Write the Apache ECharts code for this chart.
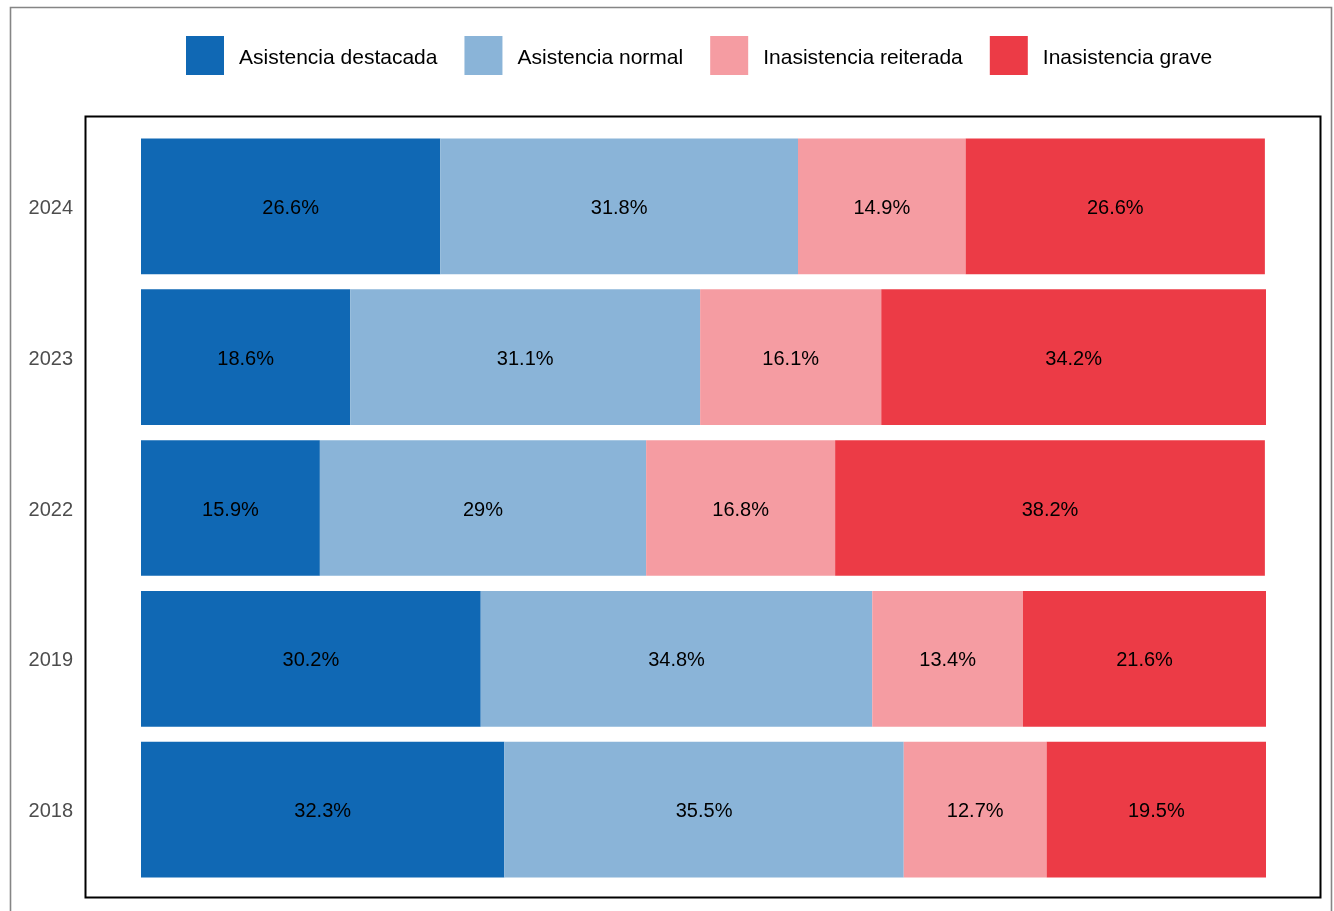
<!DOCTYPE html>
<html>
<head>
<meta charset="utf-8">
<script src="https://cdn.jsdelivr.net/npm/echarts@6/dist/echarts.min.js"></script>
<style>html,body{margin:0;padding:0;background:#fff;}#c{width:1334px;height:911px;}</style>
</head>
<body>
<div id="c"></div>
<script>
const years = ['2018', '2019', '2022', '2023', '2024'];
const seriesNames = ['Asistencia destacada', 'Asistencia normal', 'Inasistencia reiterada', 'Inasistencia grave'];
const destacada = [32.3, 30.2, 15.9, 18.6, 26.6];
const normal = [35.5, 34.8, 29, 31.1, 31.8];
const reiterada = [12.7, 13.4, 16.8, 16.1, 14.9];
const grave = [19.5, 21.6, 38.2, 34.2, 26.6];
const colors = ['#1068B4', '#8AB4D8', '#F59CA2', '#EC3B46'];

const values = [destacada, normal, reiterada, grave];
const font = 'Liberation Sans, Arial, Helvetica, sans-serif';

const chart = echarts.init(document.getElementById('c'));
chart.setOption({
  animation: false,
  backgroundColor: '#fff',
  textStyle: { fontFamily: font },
  graphic: [
    { type: 'rect', shape: { x: 10.5, y: 7.5, width: 1321, height: 1000 }, style: { fill: 'none', stroke: '#858585', lineWidth: 1.6 }, z: 0 },
    { type: 'rect', shape: { x: 85.5, y: 116.5, width: 1235, height: 781 }, style: { fill: 'none', stroke: '#000', lineWidth: 2 }, z: 0 }
  ],
  legend: {
    left: 186, top: 36, padding: 0,
    itemWidth: 38, itemHeight: 39, itemGap: 27,
    icon: 'rect',
    data: seriesNames,
    formatter: n => '{t|' + n + '}',
    textStyle: {
      fontSize: 21, color: '#000', fontFamily: font,
      rich: { t: { fontSize: 21, color: '#000', fontFamily: font, padding: [6, 0, 0, 10] } }
    }
  },
  grid: { left: 141, right: 68, top: 131, height: 754, containLabel: false },
  xAxis: { type: 'value', min: 0, max: 100, show: false },
  yAxis: {
    type: 'category', data: years,
    axisLine: { show: false }, axisTick: { show: false }, splitLine: { show: false },
    axisLabel: {
      fontSize: 20, color: '#4D4D4D', margin: 68, fontFamily: font,
      formatter: v => '{y|' + v + '}',
      rich: { y: { fontSize: 20, color: '#4D4D4D', fontFamily: font, padding: [4, 0, 0, 0] } }
    }
  },
  series: seriesNames.map((n, i) => ({
    name: n, type: 'bar', stack: 'total', data: values[i],
    barCategoryGap: '10%',
    itemStyle: { color: colors[i] },
    label: { show: true, position: 'inside', offset: [0, 2], color: '#000', fontSize: 20, fontFamily: font, formatter: p => p.value + '%' }
  }))
});
</script>
</body>
</html>
